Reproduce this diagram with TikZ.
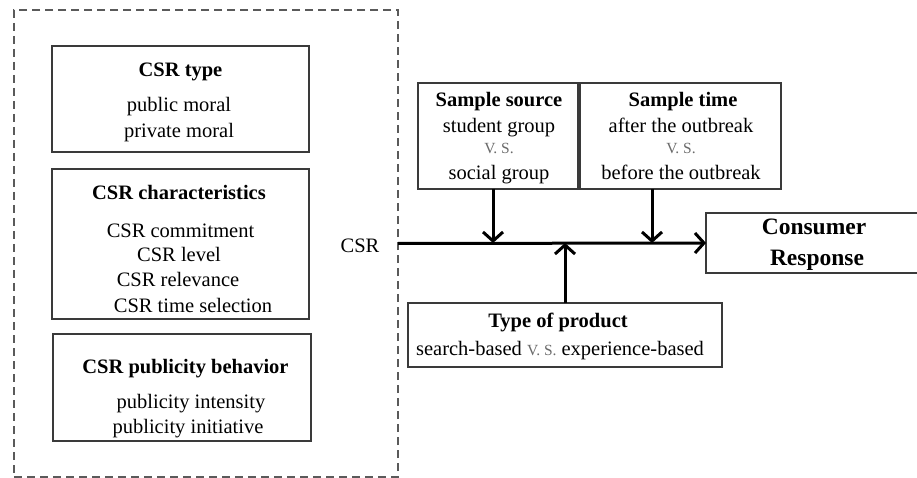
\documentclass[tikz,border=0pt]{standalone}
\usepackage{fontspec}
\setmainfont{Liberation Serif}
\usetikzlibrary{arrows.meta}
\definecolor{boxgray}{HTML}{3A3A3A}
\definecolor{dashgray}{HTML}{5A5A5A}
\definecolor{vsgray}{HTML}{6A6A6A}
\newcommand\vsmark[1]{{\color{vsgray}\fontsize{15.5}{18}\selectfont #1}}
\begin{document}
\begin{tikzpicture}[x=1pt,y=-1pt,
  box/.style={draw=boxgray, line width=1.4pt, inner sep=0pt, outer sep=0pt},
  groupbox/.style={draw=dashgray, line width=1.1pt, dash pattern=on 8pt off 5pt, inner sep=0pt, outer sep=0pt},
  txt/.style={anchor=base, inner sep=0pt, font=\fontsize{20.5}{24}\selectfont},
  ttl/.style={anchor=base, inner sep=0pt, font=\fontsize{20.5}{24}\selectfont\bfseries},
  bigttl/.style={anchor=base, inner sep=0pt, font=\fontsize{23.5}{28}\selectfont\bfseries},
  vs/.style={anchor=base, inner sep=0pt, text=vsgray, font=\fontsize{15.5}{18}\selectfont},
  link/.style={line width=3pt, -{Straight Barb[length=9pt,width=20pt,line width=3pt]}}]
\useasboundingbox (0,0) rectangle (917,478);

% dashed group of CSR attributes
\node[groupbox, minimum width=384pt, minimum height=467pt] (group) at (206,243.5) {};

% CSR type
\node[box, minimum width=257pt, minimum height=106pt] (type) at (180.5,99) {};
\node[ttl] (typeT) at (180.5,77) {CSR type};
\node[txt] (typeA) at (179,112) {public moral};
\node[txt] (typeB) at (179,138) {private moral};

% CSR characteristics
\node[box, minimum width=257pt, minimum height=150pt] (chr) at (180.5,244) {};
\node[ttl] (chrT) at (179,200) {CSR characteristics};
\node[txt] (chrA) at (180.5,237) {CSR commitment};
\node[txt] (chrB) at (179,261) {CSR level};
\node[txt] (chrC) at (178,286) {CSR relevance};
\node[txt] (chrD) at (193,312) {CSR time selection};

% CSR publicity behavior
\node[box, minimum width=258pt, minimum height=107pt] (pub) at (182,387.5) {};
\node[ttl] (pubT) at (185.5,373) {CSR publicity behavior};
\node[txt] (pubA) at (191,408) {publicity intensity};
\node[txt] (pubB) at (188,433) {publicity initiative};

% CSR label
\node[txt] (csr) at (360,252) {CSR};

% Sample source
\node[box, minimum width=160pt, minimum height=106pt] (src) at (498,136) {};
\node[ttl] (srcT) at (499,107) {Sample source};
\node[txt] (srcA) at (499,133) {student group};
\node[vs]  (srcV) at (499,154) {V. S.};
\node[txt] (srcB) at (499,180) {social group};

% Sample time
\node[box, minimum width=201pt, minimum height=106pt] (time) at (680.5,136) {};
\node[ttl] (timeT) at (683,107) {Sample time};
\node[txt] (timeA) at (681,133) {after the outbreak};
\node[vs]  (timeV) at (681,154) {V. S.};
\node[txt] (timeB) at (681,180) {before the outbreak};

% Type of product
\node[box, minimum width=314pt, minimum height=64pt] (prod) at (565,335) {};
\node[ttl] (prodT) at (558,327) {Type of product};
\node[txt] (prodA) at (560,355) {search-based \vsmark{V. S.} experience-based};

% Consumer response
\node[box, minimum width=213pt, minimum height=60pt] (resp) at (812.5,243) {};
\node[bigttl] (respA) at (814,234) {Consumer};
\node[bigttl] (respB) at (817,265) {Response};

% main path and moderating arrows
\draw[link] (group.east) -- (resp.west);
\draw[link] ([xshift=-5pt]src.south) -- ([xshift=-5pt]src.south |- resp.west);
\draw[link] ([xshift=-28.5pt]time.south) -- ([xshift=-28.5pt]time.south |- resp.west);
\draw[link] (prod.north) -- (prod.north |- resp.west);
\end{tikzpicture}
\end{document}
